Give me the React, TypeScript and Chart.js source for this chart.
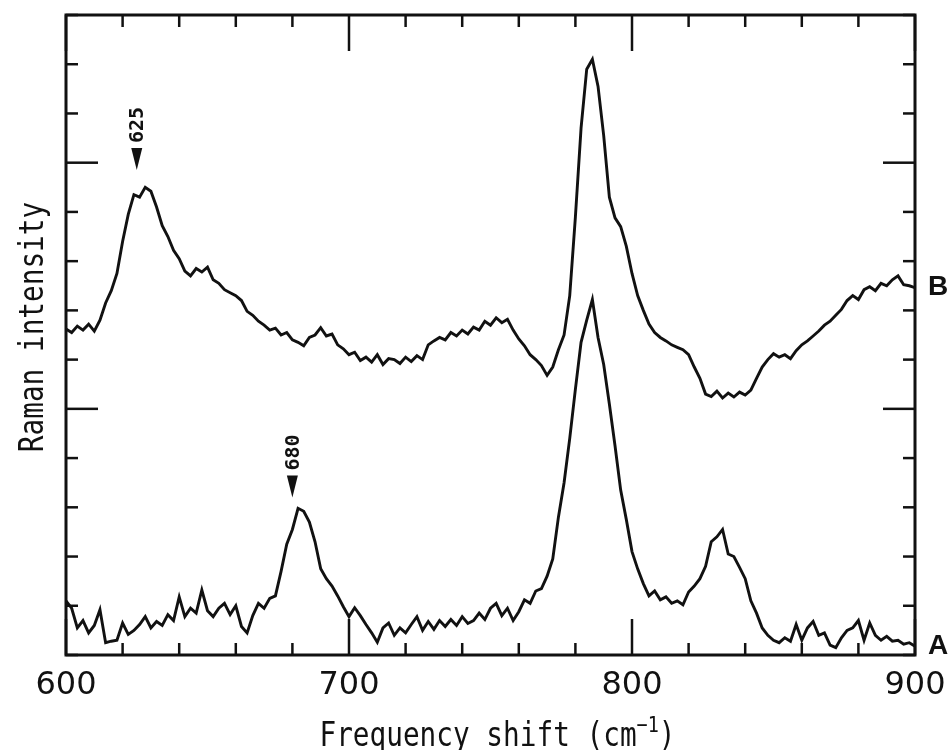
import React, { useEffect, useRef } from "react";
import { Chart, registerables } from "chart.js";

Chart.register(...registerables);

// Raman shift axis (cm^-1), sampled every 2 cm^-1
const WAVENUMBERS = [
  600, 602, 604, 606, 608, 610, 612, 614, 616, 618,
  620, 622, 624, 626, 628, 630, 632, 634, 636, 638,
  640, 642, 644, 646, 648, 650, 652, 654, 656, 658,
  660, 662, 664, 666, 668, 670, 672, 674, 676, 678,
  680, 682, 684, 686, 688, 690, 692, 694, 696, 698,
  700, 702, 704, 706, 708, 710, 712, 714, 716, 718,
  720, 722, 724, 726, 728, 730, 732, 734, 736, 738,
  740, 742, 744, 746, 748, 750, 752, 754, 756, 758,
  760, 762, 764, 766, 768, 770, 772, 774, 776, 778,
  780, 782, 784, 786, 788, 790, 792, 794, 796, 798,
  800, 802, 804, 806, 808, 810, 812, 814, 816, 818,
  820, 822, 824, 826, 828, 830, 832, 834, 836, 838,
  840, 842, 844, 846, 848, 850, 852, 854, 856, 858,
  860, 862, 864, 866, 868, 870, 872, 874, 876, 878,
  880, 882, 884, 886, 888, 890, 892, 894, 896, 898,
  900,
];

// Spectrum B (upper trace), arbitrary intensity units
const INTENSITY_B = [
  6.62, 6.55, 6.68, 6.60, 6.72, 6.58, 6.80, 7.15, 7.40, 7.75,
  8.40, 8.95, 9.35, 9.30, 9.50, 9.42, 9.10, 8.72, 8.50, 8.22,
  8.05, 7.80, 7.70, 7.85, 7.78, 7.88, 7.62, 7.55, 7.42, 7.36,
  7.30, 7.20, 6.98, 6.90, 6.78, 6.70, 6.60, 6.64, 6.50, 6.55,
  6.40, 6.35, 6.28, 6.45, 6.50, 6.65, 6.48, 6.52, 6.30, 6.22,
  6.10, 6.15, 5.98, 6.05, 5.95, 6.10, 5.90, 6.02, 6.00, 5.92,
  6.05, 5.96, 6.08, 6.00, 6.30, 6.38, 6.45, 6.40, 6.55, 6.48,
  6.60, 6.52, 6.66, 6.60, 6.78, 6.70, 6.85, 6.75, 6.82, 6.60,
  6.42, 6.28, 6.10, 6.00, 5.88, 5.68, 5.85, 6.20, 6.50, 7.30,
  8.90, 10.70, 11.90, 12.10, 11.55, 10.55, 9.30, 8.88, 8.70, 8.30,
  7.75, 7.30, 7.00, 6.72, 6.55, 6.45, 6.38, 6.30, 6.25, 6.20,
  6.10, 5.85, 5.62, 5.30, 5.25, 5.36, 5.22, 5.32, 5.24, 5.34,
  5.28, 5.38, 5.62, 5.85, 6.00, 6.12, 6.05, 6.10, 6.02, 6.18,
  6.30, 6.38, 6.48, 6.58, 6.70, 6.78, 6.90, 7.02, 7.20, 7.30,
  7.22, 7.42, 7.48, 7.40, 7.55, 7.50, 7.62, 7.70, 7.52, 7.50,
  7.46,
];

// Spectrum A (lower trace), arbitrary intensity units
const INTENSITY_A = [
  1.10, 0.95, 0.55, 0.70, 0.45, 0.60, 0.92, 0.25, 0.28, 0.30,
  0.65, 0.42, 0.50, 0.62, 0.78, 0.55, 0.68, 0.60, 0.82, 0.70,
  1.18, 0.78, 0.95, 0.85, 1.32, 0.90, 0.78, 0.95, 1.05, 0.82,
  1.00, 0.58, 0.45, 0.80, 1.05, 0.95, 1.15, 1.20, 1.70, 2.25,
  2.55, 2.98, 2.92, 2.70, 2.30, 1.75, 1.55, 1.40, 1.20, 0.98,
  0.78, 0.96, 0.80, 0.62, 0.45, 0.26, 0.55, 0.65, 0.40, 0.55,
  0.45, 0.62, 0.78, 0.50, 0.68, 0.52, 0.70, 0.58, 0.72, 0.60,
  0.78, 0.64, 0.70, 0.85, 0.72, 0.95, 1.05, 0.80, 0.95, 0.70,
  0.88, 1.12, 1.05, 1.30, 1.35, 1.60, 1.95, 2.80, 3.50, 4.40,
  5.40, 6.35, 6.80, 7.22, 6.45, 5.90, 5.10, 4.25, 3.35, 2.75,
  2.10, 1.75, 1.45, 1.20, 1.30, 1.12, 1.18, 1.05, 1.10, 1.02,
  1.28, 1.40, 1.55, 1.80, 2.30, 2.40, 2.55, 2.05, 2.00, 1.78,
  1.55, 1.10, 0.85, 0.55, 0.40, 0.30, 0.25, 0.35, 0.28, 0.62,
  0.30, 0.55, 0.68, 0.40, 0.45, 0.20, 0.15, 0.35, 0.50, 0.55,
  0.70, 0.30, 0.65, 0.40, 0.30, 0.38, 0.28, 0.30, 0.22, 0.25,
  0.18,
];

const SERIES_NAMES = ["B", "A"];

// Axis tick positions
const X_TICKS = [600, 620, 640, 660, 680, 700, 720, 740, 760, 780, 800, 820, 840, 860, 880, 900];
const X_LABELS = [600, 700, 800, 900];
const Y_TICKS = [0, 1, 2, 3, 4, 5, 6, 7, 8, 9, 10, 11, 12, 13];
const Y_MAJOR = [5, 10];

// Marked peaks: position, label and height of the arrow tip
const PEAK_POSITIONS = [625, 680];
const PEAK_TEXT = ["625", "680"];
const PEAK_TIPS = [9.85, 3.2];

const X_TITLE = "Frequency shift (cm";
const X_TITLE_SUP = "\u22121";
const Y_TITLE = "Raman intensity";

const INK = "#111111";
const MONO = "'DejaVu Sans Mono', 'Liberation Mono', monospace";

function drawCondensed(
  ctx: CanvasRenderingContext2D,
  text: string,
  x: number,
  y: number,
  squeeze: number
) {
  ctx.save();
  ctx.translate(x, y);
  ctx.scale(squeeze, 1);
  ctx.fillText(text, 0, 0);
  ctx.restore();
}

const framePlugin = {
  id: "spectrumFrame",
  afterDatasetsDraw(chart: any) {
    const { ctx, chartArea: a, scales } = chart;
    const xs = scales.x;
    const ys = scales.y;
    ctx.save();
    ctx.strokeStyle = INK;
    ctx.fillStyle = INK;
    ctx.lineCap = "butt";

    // frame
    ctx.lineWidth = 3;
    ctx.strokeRect(a.left, a.top, a.right - a.left, a.bottom - a.top);

    const seg = (x1: number, y1: number, x2: number, y2: number) => {
      ctx.beginPath();
      ctx.moveTo(x1, y1);
      ctx.lineTo(x2, y2);
      ctx.stroke();
    };

    // inward ticks on all four sides
    ctx.lineWidth = 2.5;
    X_TICKS.forEach((v) => {
      const px = xs.getPixelForValue(v);
      const len = X_LABELS.includes(v) ? 36 : 12;
      seg(px, a.bottom, px, a.bottom - len);
      seg(px, a.top, px, a.top + len);
    });
    Y_TICKS.forEach((v) => {
      const py = ys.getPixelForValue(v);
      const len = Y_MAJOR.includes(v) ? 32 : 12;
      seg(a.left, py, a.left + len, py);
      seg(a.right, py, a.right - len, py);
    });

    // x tick labels
    ctx.font = "32px 'DejaVu Sans', sans-serif";
    ctx.textAlign = "center";
    ctx.textBaseline = "alphabetic";
    X_LABELS.forEach((v) => {
      ctx.fillText(String(v), xs.getPixelForValue(v), a.bottom + 39);
    });

    // x title with superscript
    const squeeze = 0.84;
    ctx.font = `33px ${MONO}`;
    const mainW = ctx.measureText(X_TITLE).width * squeeze;
    ctx.font = `22px ${MONO}`;
    const supW = ctx.measureText(X_TITLE_SUP).width * squeeze;
    ctx.font = `33px ${MONO}`;
    const closeW = ctx.measureText(")").width * squeeze;
    const total = mainW + supW + closeW;
    const cx = (a.left + a.right) / 2 + 7;
    let tx = cx - total / 2;
    const base = a.bottom + 91;
    ctx.textAlign = "left";
    drawCondensed(ctx, X_TITLE, tx, base, squeeze);
    tx += mainW;
    ctx.font = `22px ${MONO}`;
    drawCondensed(ctx, X_TITLE_SUP, tx, base - 14, squeeze);
    tx += supW;
    ctx.font = `33px ${MONO}`;
    drawCondensed(ctx, ")", tx, base, squeeze);

    // y title
    ctx.save();
    ctx.translate(a.left - 23, (a.top + a.bottom) / 2 - 8);
    ctx.rotate(-Math.PI / 2);
    ctx.scale(squeeze, 1);
    ctx.textAlign = "center";
    ctx.textBaseline = "alphabetic";
    ctx.font = `33px ${MONO}`;
    ctx.fillText(Y_TITLE, 0, 0);
    ctx.restore();

    // peak markers: arrow plus vertical label
    PEAK_POSITIONS.forEach((p, i) => {
      const px = xs.getPixelForValue(p);
      const tip = ys.getPixelForValue(PEAK_TIPS[i]);
      const h = 22;
      ctx.beginPath();
      ctx.moveTo(px, tip);
      ctx.lineTo(px - 5.5, tip - h);
      ctx.lineTo(px + 5.5, tip - h);
      ctx.closePath();
      ctx.fill();
      ctx.save();
      ctx.translate(px + 1, tip - h - 5);
      ctx.rotate(-Math.PI / 2);
      ctx.textAlign = "left";
      ctx.textBaseline = "middle";
      ctx.font = `bold 20px ${MONO}`;
      ctx.fillText(PEAK_TEXT[i], 0, 0);
      ctx.restore();
    });

    // series names at the right-hand end of each trace
    ctx.font = "bold 28px 'Liberation Sans', Arial, sans-serif";
    ctx.textAlign = "center";
    ctx.textBaseline = "middle";
    chart.data.datasets.forEach((ds: any, i: number) => {
      const last = ds.data[ds.data.length - 1];
      ctx.fillText(SERIES_NAMES[i], a.right + 23, ys.getPixelForValue(last.y));
    });

    ctx.restore();
  },
};

export default function App() {
  const canvasRef = useRef<HTMLCanvasElement | null>(null);

  useEffect(() => {
    const canvas = canvasRef.current;
    if (!canvas) return;
    const toPoints = (vals: number[]) => WAVENUMBERS.map((w, i) => ({ x: w, y: vals[i] }));
    const chart = new Chart(canvas, {
      type: "line",
      data: {
        datasets: [
          {
            label: SERIES_NAMES[0],
            data: toPoints(INTENSITY_B),
            borderColor: INK,
            borderWidth: 2.9,
            pointRadius: 0,
            tension: 0,
            fill: false,
          },
          {
            label: SERIES_NAMES[1],
            data: toPoints(INTENSITY_A),
            borderColor: INK,
            borderWidth: 2.9,
            pointRadius: 0,
            tension: 0,
            fill: false,
          },
        ],
      },
      options: {
        responsive: false,
        animation: false,
        events: [],
        layout: { padding: { left: 66, top: 15, right: 33, bottom: 95 } },
        plugins: {
          legend: { display: false },
          tooltip: { enabled: false },
        },
        scales: {
          x: { type: "linear", min: 600, max: 900, display: false },
          y: { type: "linear", min: 0, max: 13, display: false },
        },
      },
      plugins: [framePlugin],
    });
    return () => chart.destroy();
  }, []);

  return (
    <div style={{ position: "absolute", left: 0, top: 0, width: 948, height: 750, background: "#ffffff" }}>
      <canvas ref={canvasRef} width={948} height={750} style={{ display: "block" }} />
    </div>
  );
}
